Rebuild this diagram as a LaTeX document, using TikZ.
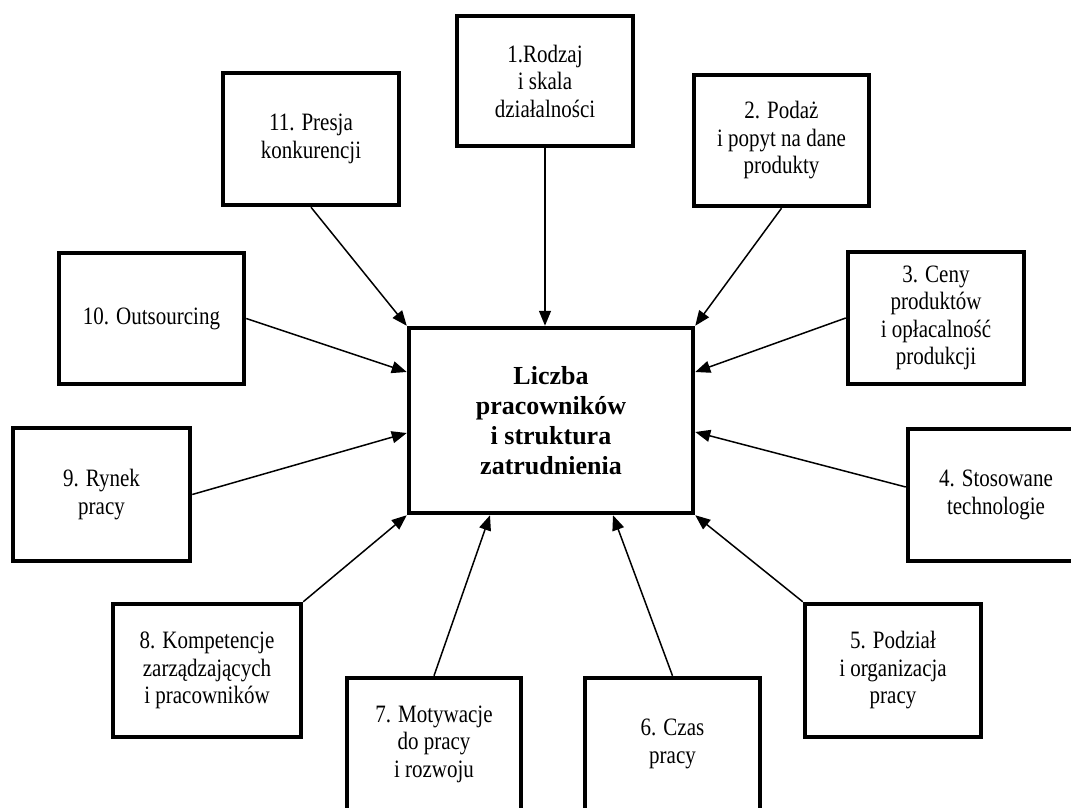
\documentclass[tikz,border=0pt]{standalone}
\usepackage{fontspec}
\setmainfont{Liberation Serif}
\newfontfamily\factorfont[FakeStretch=0.84]{Liberation Serif}
\usetikzlibrary{arrows.meta}
\begin{document}
\begin{tikzpicture}[x=1pt,y=-1pt,
  factor/.style={draw, line width=4.5pt, inner sep=0pt, align=center,
    font=\factorfont\fontsize{25}{27.5}\selectfont,
    minimum width=176pt, minimum height=132pt},
  core/.style={factor, minimum width=284pt, minimum height=185pt,
    font=\rmfamily\bfseries\fontsize{26}{30}\selectfont},
  influence/.style={line width=1.5pt, -{Triangle[length=15pt,width=12pt]}}]
\useasboundingbox (0,0) rectangle (1071,808);
\clip (0,0) rectangle (1071,808);

% central node
\node[core] (C) at (551,420.5) {Liczba\\pracowników\\i struktura\\zatrudnienia};

% surrounding factors
\node[factor, minimum height=130pt] (B1) at (545,81) {1.Rodzaj\\i skala\\działalności};
\node[factor, minimum width=175pt, minimum height=131pt] (B2) at (781.5,140.5) {2. Podaż\\i popyt na dane\\produkty};
\node[factor] (B3) at (936,318) {3. Ceny\\produktów\\i opłacalność\\produkcji};
\node[factor] (B4) at (996,495) {4. Stosowane\\technologie};
\node[factor, minimum height=133pt] (B5) at (893,670.5) {5. Podział\\i organizacja\\pracy};
\node[factor, minimum width=175pt] (B6) at (672.5,744) {6. Czas\\pracy};
\node[factor, minimum width=174pt] (B7) at (434,744) {7. Motywacje\\do pracy\\i rozwoju};
\node[factor, minimum width=188pt, minimum height=133pt] (B8) at (207,670.5) {8. Kompetencje\\zarządzających\\i pracowników};
\node[factor, minimum width=177pt, minimum height=133pt] (B9) at (101.5,494.5) {9. Rynek\\pracy};
\node[factor, minimum width=185pt, minimum height=131pt] (B10) at (151.5,318.5) {10. Outsourcing};
\node[factor] (B11) at (311,139) {11. Presja\\konkurencji};

% influences on the central node
\draw[influence] (B1.south) -- (B1.south |- C.north);
\draw[influence] (B2.south) -- (C.north east);
\draw[influence] (B3.west) -- ([yshift=48.5pt]C.east);
\draw[influence] ([yshift=8pt]B4.west) -- ([yshift=-11.5pt]C.east);
\draw[influence] (B5.north west) -- (C.south east);
\draw[influence] (B6.north) -- ([xshift=62pt]C.south);
\draw[influence] (B7.north) -- ([xshift=-61pt]C.south);
\draw[influence] (B8.north east) -- (C.south west);
\draw[influence] (B9.east) -- ([yshift=-12.5pt]C.west);
\draw[influence] (B10.east) -- ([yshift=48.5pt]C.west);
\draw[influence] (B11.south) -- (C.north west);
\end{tikzpicture}
\end{document}
